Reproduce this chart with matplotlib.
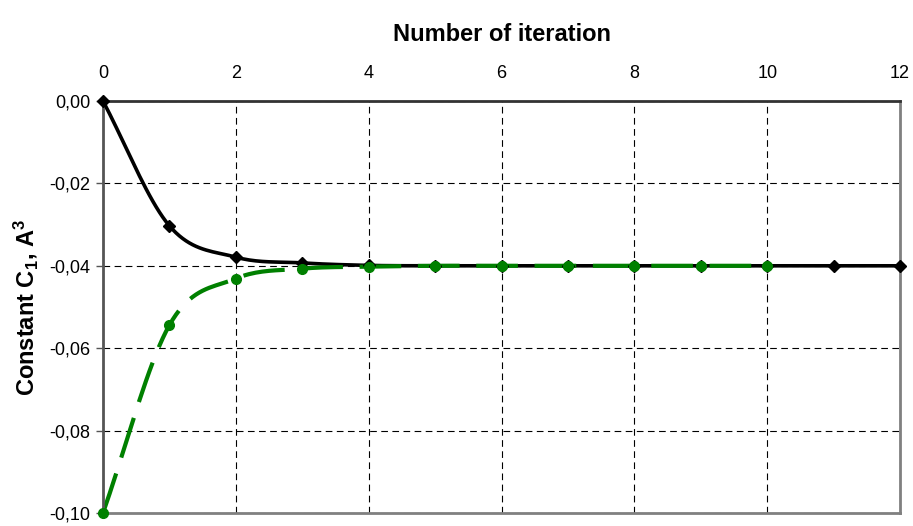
import numpy as np
import matplotlib
matplotlib.use("Agg")
import matplotlib.pyplot as plt
from matplotlib.ticker import FuncFormatter

plt.rcParams["font.family"] = ["Liberation Sans", "DejaVu Sans"]
plt.rcParams["mathtext.fontset"] = "custom"
plt.rcParams["mathtext.rm"] = "Liberation Sans:bold"
plt.rcParams["mathtext.default"] = "rm"

# Iteration history of the constant C1
iter_black = [0, 1, 2, 3, 4, 5, 6, 7, 8, 9, 10, 11, 12]
c1_black = [0.0, -0.0303, -0.0379, -0.0393, -0.0399, -0.0400, -0.0400,
            -0.0400, -0.0400, -0.0400, -0.0400, -0.0400, -0.0400]
iter_green = [0, 1, 2, 3, 4, 5, 6, 7, 8, 9, 10]
c1_green = [-0.100, -0.0544, -0.0431, -0.0407, -0.0402, -0.0400, -0.0400,
            -0.0400, -0.0400, -0.0400, -0.0400]

x_ticks = [0, 2, 4, 6, 8, 10, 12]
y_ticks = [0.0, -0.02, -0.04, -0.06, -0.08, -0.10]


def smooth(xs, ys, n=20):
    """Catmull-Rom curve through the given points (smoothed line rendering)."""
    xs = np.asarray(xs, float)
    ys = np.asarray(ys, float)
    px = np.concatenate([[2 * xs[0] - xs[1]], xs, [2 * xs[-1] - xs[-2]]])
    py = np.concatenate([[2 * ys[0] - ys[1]], ys, [2 * ys[-1] - ys[-2]]])
    out_x, out_y = [], []
    t = np.linspace(0, 1, n, endpoint=False)
    for i in range(1, len(px) - 2):
        for p, out in ((px, out_x), (py, out_y)):
            p0, p1, p2, p3 = p[i - 1], p[i], p[i + 1], p[i + 2]
            seg = 0.5 * ((2 * p1) + (-p0 + p2) * t
                         + (2 * p0 - 5 * p1 + 4 * p2 - p3) * t ** 2
                         + (-p0 + 3 * p1 - 3 * p2 + p3) * t ** 3)
            out.extend(seg)
    out_x.append(xs[-1])
    out_y.append(ys[-1])
    return np.array(out_x), np.array(out_y)


fig = plt.figure(figsize=(9.13, 5.26), dpi=100)
ax = fig.add_axes([0.1128, 0.0247, 0.873, 0.7833])

bx, by = smooth(iter_black, c1_black)
gx, gy = smooth(iter_green, c1_green)

ax.plot(bx, by, color="black", lw=2.6, zorder=3, solid_capstyle="round",
        clip_on=False)
ax.plot(iter_black, c1_black, linestyle="none", marker="D", ms=6.5,
        color="black", zorder=8, clip_on=False)
ax.plot(gx, gy, color="#008000", lw=3.0, dashes=(10, 4), zorder=5,
        clip_on=False)
ax.plot(iter_green, c1_green, linestyle="none", marker="o", ms=7,
        color="#008000", zorder=9, clip_on=False)

ax.set_xlim(0, 12)
ax.set_ylim(-0.10, 0.0)
ax.set_xticks(x_ticks)
ax.set_yticks(y_ticks)
ax.xaxis.tick_top()
ax.xaxis.set_label_position("top")
ax.yaxis.set_major_formatter(
    FuncFormatter(lambda v, p: f"{v:.2f}".replace(".", ",").replace("-0,00", "0,00")))

ax.tick_params(axis="x", length=0, pad=14, labelsize=13)
ax.tick_params(axis="y", direction="out", length=5, width=1, color="#555555",
               pad=4, labelsize=13)

ax.grid(True, color="black", linestyle=(0, (6, 4)), lw=0.8, zorder=1)

for side in ("left", "bottom", "right"):
    ax.spines[side].set_color("#808080")
    ax.spines[side].set_linewidth(2)
ax.spines["left"].set_color("#555555")
ax.spines["top"].set_color("#333333")
ax.spines["top"].set_linewidth(2)

ax.set_xlabel("Number of iteration", fontsize=17, fontweight="bold", labelpad=17)
ax.set_ylabel(r"Constant C$_{1}$, A$^{3}$", fontsize=17, fontweight="bold",
              labelpad=7)

for spine in ax.spines.values():
    spine.set_zorder(7)

fig.savefig("out.png", dpi=100)
